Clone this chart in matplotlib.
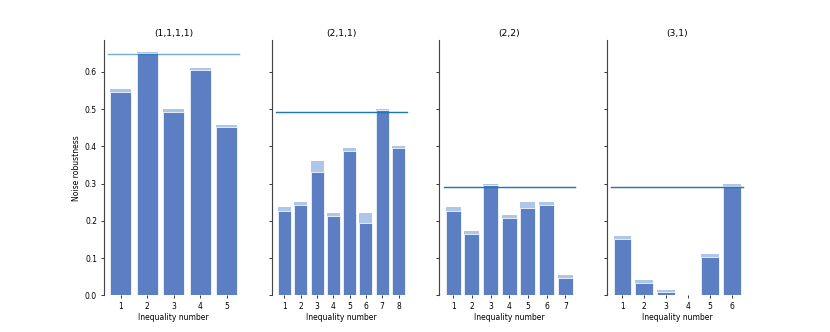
import matplotlib.pyplot as plt
import numpy as np

titles = ['(1,1,1,1)', '(2,1,1)', '(2,2)', '(3,1)']

# upper (light) and lower (dark) noise robustness per inequality
light = [
	[0.555, 0.653, 0.499, 0.611, 0.458],
	[0.236, 0.250, 0.360, 0.220, 0.395, 0.220, 0.500, 0.402],
	[0.236, 0.172, 0.298, 0.215, 0.250, 0.250, 0.054],
	[0.159, 0.041, 0.014, 0.0, 0.110, 0.298],
]
dark = [
	[0.547, 0.650, 0.492, 0.604, 0.452],
	[0.227, 0.242, 0.332, 0.213, 0.387, 0.194, 0.497, 0.395],
	[0.227, 0.165, 0.295, 0.208, 0.234, 0.243, 0.047],
	[0.152, 0.034, 0.008, 0.0, 0.103, 0.293],
]
bound = [0.648, 0.493, 0.292, 0.292]
bound_alpha = [0.6, 1.0, 1.0, 1.0]

plt.rcParams['font.size'] = 8

fig, axes = plt.subplots(1, 4, figsize=(12, 4.8), sharey=True)

for i, ax in enumerate(axes):
	x = np.arange(1, len(light[i]) + 1)
	ax.bar(x, light[i], width=0.8, color='#aec7e8')
	ax.bar(x, dark[i], width=0.8, color='#5b7fc2', edgecolor='white', linewidth=0.8)
	ax.axhline(bound[i], xmin=0.03, xmax=0.97, color='#1f77b4', alpha=bound_alpha[i], linewidth=1.5)
	ax.set_xticks(x)
	ax.set_title(titles[i], pad=4)
	ax.set_xlabel('Inequality number', labelpad=2)
	for s in ['top', 'right', 'bottom']:
		ax.spines[s].set_visible(False)
	ax.spines['left'].set_color('#444444')
	ax.spines['left'].set_linewidth(1.2)

axes[0].set_ylabel('Noise robustness')

plt.savefig('out.png', dpi=830 / 12)
